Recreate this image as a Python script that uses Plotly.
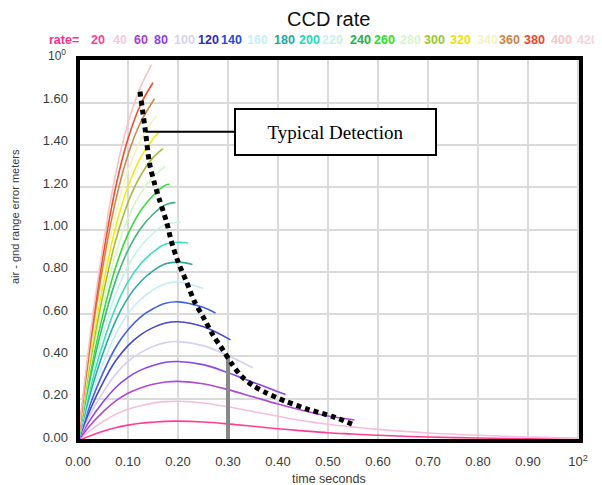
import plotly.graph_objects as go

# ---------------- data ----------------
rates = [20, 40, 60, 80, 100, 120, 140, 160, 180, 200,
         220, 240, 260, 280, 300, 320, 340, 360, 380, 400]

t_grid = [0, 0.025, 0.05, 0.075, 0.1, 0.125, 0.15, 0.175, 0.2, 0.25,
          0.3, 0.35, 0.4, 0.45, 0.5, 0.55, 0.6, 0.7, 0.8, 0.9, 1.0]

end_times = [1.0, 1.0, 0.553, 0.415, 0.35, 0.305, 0.275, 0.25, 0.229, 0.22,
             0.205, 0.195, 0.183, 0.175, 0.17, 0.161, 0.158, 0.153, 0.15, 0.147]

err_20 = [0, .025, .046, .063, .075, .084, .089, .093, .094, .090, .081, .070, .058, .048, .039, .033, .027, .019, .014, .010, .007]
err_40 = [0, .051, .092, .126, .150, .167, .179, .186, .188, .180, .162, .139, .117, .096, .079, .066, .055, .038, .027, .019, .014]
err_60 = [0, .076, .138, .189, .226, .251, .268, .279, .282, .271, .243, .209, .175, .144, .118, .099]
err_80 = [0, .102, .184, .252, .301, .335, .357, .372, .376, .361, .323, .278, .233, .220]
err_100 = [0, .127, .230, .315, .376, .418, .447, .465, .470, .451, .404, .345]
err_120 = [0, .152, .276, .378, .451, .502, .536, .558, .564, .541, .478]
err_140 = [0, .178, .322, .441, .526, .586, .625, .651, .658, .632, .605]
err_160 = [0, .203, .368, .504, .602, .669, .714, .744, .752, .722]
err_180 = [0, .228, .415, .567, .677, .753, .804, .838, .846, .835]
err_200 = [0, .254, .461, .630, .752, .837, .893, .931, .940, .936]
err_220 = [0, .279, .507, .693, .827, .920, .982, 1.024, 1.034]
err_240 = [0, .305, .553, .756, .902, 1.004, 1.072, 1.117, 1.127]
err_260 = [0, .330, .599, .819, .978, 1.088, 1.161, 1.210, 1.214]
err_280 = [0, .355, .645, .882, 1.053, 1.171, 1.250, 1.300]
err_300 = [0, .381, .691, .945, 1.128, 1.255, 1.340, 1.383]
err_320 = [0, .406, .737, 1.008, 1.203, 1.339, 1.429, 1.457]
err_340 = [0, .431, .783, 1.071, 1.278, 1.422, 1.518, 1.536]
err_360 = [0, .457, .829, 1.134, 1.354, 1.506, 1.607, 1.618]
err_380 = [0, .482, .875, 1.197, 1.429, 1.590, 1.694]
err_400 = [0, .508, .921, 1.260, 1.504, 1.673, 1.777]

detect_t = [0.124, 0.129, 0.135, 0.143, 0.153, 0.163, 0.177, 0.187, 0.200, 0.217, 0.233,
            0.250, 0.270, 0.290, 0.307, 0.327, 0.350, 0.377, 0.417, 0.460, 0.510, 0.548]
detect_y = [1.652, 1.565, 1.462, 1.313, 1.218, 1.140, 1.037, 0.942, 0.848, 0.753, 0.659,
            0.588, 0.501, 0.430, 0.367, 0.306, 0.262, 0.227, 0.186, 0.150, 0.115, 0.080]

marker_bar_t = [0.30, 0.30]
marker_bar_y = [0.0, 0.407]

x_tick_vals = [0, 0.1, 0.2, 0.3, 0.4, 0.5, 0.6, 0.7, 0.8, 0.9, 1.0]
x_tick_text = ["0.00", "0.10", "0.20", "0.30", "0.40", "0.50", "0.60", "0.70", "0.80", "0.90", "10<sup>2</sup>"]
y_tick_vals = [0, 0.2, 0.4, 0.6, 0.8, 1.0, 1.2, 1.4, 1.6]
y_tick_text = ["0.00", "0.20", "0.40", "0.60", "0.80", "1.00", "1.20", "1.40", "1.60"]

legend_labels = ["rate=", "20", "40", "60", "80", "100", "120", "140", "160", "180", "200",
                 "220", "240", "260", "280", "300", "320", "340", "360", "380", "400", "420"]

# ---------------- styles ----------------
curve_colors = ["#ff3d96", "#f7bde0", "#b048d8", "#8d44f0", "#d6cff5", "#4848c8", "#4262e6",
                "#c4ecf6", "#2fa8a4", "#36e0bd", "#c6f3e4", "#3db87a", "#30dc36", "#d6f5c6",
                "#a4bd34", "#f2ec10", "#f6f3bc", "#d08648", "#f24a2a", "#f7c2c4"]
legend_colors = ["#ff2d8a", "#ff3d96", "#f7c6e2", "#a33fd0", "#8a3cf0", "#d8d2f2", "#2a2ab4",
                 "#2848d8", "#c8eef8", "#1aa8a8", "#20dcb8", "#c8f2e2", "#22b04a", "#28e028",
                 "#daf4cc", "#9ac82a", "#f0e000", "#f6f2c4", "#d28240", "#f04428", "#f8c4c4", "#f8d2dc"]
legend_x_px = [47, 89, 111, 132, 152, 172, 196, 219, 245, 272, 297,
               320, 348, 372, 398, 422, 448, 475, 497, 522, 549, 575]

OFF = 8  # page body margin
W, H = 594, 477
L, R, T, B = 70, 21, 50, 44
pw, ph = W - L - R, H - T - B


def px_x(px):
    return (px - OFF - L) / pw


def px_y(py):
    return (OFF + H - B - py) / ph


all_err = [err_20, err_40, err_60, err_80, err_100, err_120, err_140, err_160, err_180, err_200,
           err_220, err_240, err_260, err_280, err_300, err_320, err_340, err_360, err_380, err_400]

fig = go.Figure()
for rate, ys, te, col in zip(rates, all_err, end_times, curve_colors):
    ts = t_grid[:len(ys) - 1] + [te]
    fig.add_trace(go.Scatter(x=ts, y=ys, mode="lines", line=dict(color=col, width=1.6, shape="spline"),
                             name=str(rate), showlegend=False, hoverinfo="skip"))

fig.add_trace(go.Scatter(x=marker_bar_t, y=marker_bar_y, mode="lines",
                         line=dict(color="#888888", width=4), showlegend=False, hoverinfo="skip"))
fig.add_trace(go.Scatter(x=detect_t, y=detect_y, mode="lines",
                         line=dict(color="black", width=5, dash="5px,4px", shape="spline", smoothing=0.8),
                         showlegend=False, hoverinfo="skip"))

axis_font = dict(family="Liberation Sans, Arial", size=13, color="#3a3a3a")
fig.update_xaxes(range=[0, 1.006], tickvals=x_tick_vals, ticktext=x_tick_text, showgrid=True,
                 gridcolor="#dadada", gridwidth=1.5, zeroline=False, showline=False, ticks="",
                 tickfont=axis_font, ticklabelstandoff=11)
fig.update_yaxes(range=[0, 1.811], tickvals=y_tick_vals, ticktext=y_tick_text, showgrid=True,
                 gridcolor="#dadada", gridwidth=1.5, zeroline=False, showline=False, ticks="",
                 tickfont=axis_font, ticklabelstandoff=9, ticklabelshift=-4)

annotations = []
annotations.append(dict(text="CCD rate", x=px_x(328), y=px_y(19), xref="paper", yref="paper",
                        xanchor="center", yanchor="middle", showarrow=False,
                        font=dict(family="Liberation Sans, Arial", size=20, color="#111")))
for lab, col, xp in zip(legend_labels, legend_colors, legend_x_px):
    annotations.append(dict(text="<b>" + lab + "</b>", x=px_x(xp), y=px_y(40), xref="paper", yref="paper",
                            xanchor="left", yanchor="middle", showarrow=False,
                            font=dict(family="Liberation Sans, Arial", size=12.5, color=col)))
annotations.append(dict(text="10<sup>0</sup>", x=px_x(46), y=px_y(55), xref="paper", yref="paper",
                        xanchor="left", yanchor="middle", showarrow=False,
                        font=dict(family="Liberation Sans, Arial", size=12, color="#3a3a3a")))
annotations.append(dict(text="time seconds", x=px_x(329), y=px_y(479), xref="paper", yref="paper",
                        xanchor="center", yanchor="middle", showarrow=False,
                        font=dict(family="Liberation Sans, Arial", size=12.5, color="#3a3a3a")))
annotations.append(dict(text="air - gnd range error meters", x=px_x(15), y=px_y(217), xref="paper", yref="paper",
                        xanchor="center", yanchor="middle", textangle=-90, showarrow=False,
                        font=dict(family="Liberation Sans, Arial", size=11, color="#3a3a3a")))
annotations.append(dict(text="Typical Detection", x=0.135, y=1.462, xref="x", yref="y",
                        ax=190, ay=0, axref="pixel", ayref="pixel", showarrow=True, arrowhead=0,
                        arrowwidth=2, arrowcolor="black", bgcolor="white", bordercolor="black",
                        borderwidth=2, borderpad=2, width=195, height=40,
                        font=dict(family="Liberation Serif, Times New Roman", size=19, color="black")))

fig.update_layout(
    width=W, height=H, margin=dict(l=L, r=R, t=T, b=B, autoexpand=False),
    paper_bgcolor="white", plot_bgcolor="white",
    annotations=annotations,
    shapes=[dict(type="rect", xref="paper", yref="paper", x0=0, x1=1, y0=0, y1=1,
                 line=dict(color="black", width=4), layer="above")],
)

fig.write_html("out.html")
